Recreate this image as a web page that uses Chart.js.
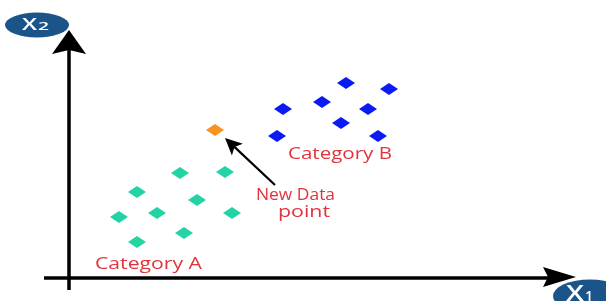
<!DOCTYPE html>
<html>
<head>
<meta charset="utf-8">
<script src="https://cdn.jsdelivr.net/npm/chart.js@4/dist/chart.umd.min.js"></script>
<style>
html,body{margin:0;padding:0;background:#fff;}
canvas{display:block;}
</style>
</head>
<body>
<canvas id="c" width="606" height="301"></canvas>
<script>
// Data (x1, x2) in chart units
const categoryA_x = [22.4, 31.4, 13.8, 25.8, 10.2, 17.8, 32.8, 23.2, 13.8];
const categoryA_y = [21.0, 21.2, 17.2, 15.6, 12.2, 13.0, 13.0, 9.0, 7.2];
const categoryB_x = [55.6, 64.2, 50.8, 43.0, 60.0, 54.6, 41.8, 62.0];
const categoryB_y = [39.0, 37.8, 35.2, 33.8, 33.8, 31.0, 28.4, 28.4];
const newPoint_x = [29.4];
const newPoint_y = [29.6];
const labels = ["Category A", "Category B", "New Data", "point"];
const axisLabels = ["X", "X"];
const axisSubs = ["2", "1"];

function pts(xs, ys){ return xs.map((x,i)=>({x:x, y:ys[i]})); }

function diamond(color){
  const c = document.createElement('canvas');
  c.width = 18; c.height = 12;
  const g = c.getContext('2d');
  g.fillStyle = color;
  g.beginPath();
  g.moveTo(9,0); g.lineTo(18,6); g.lineTo(9,12); g.lineTo(0,6); g.closePath();
  g.fill();
  return c;
}

function stretchText(ctx, text, x, y, font, color, targetW){
  ctx.save();
  ctx.font = font;
  ctx.fillStyle = color;
  ctx.textBaseline = 'alphabetic';
  const w = ctx.measureText(text).width;
  const s = targetW ? targetW / w : 1;
  ctx.translate(x, y);
  ctx.scale(s, 1);
  ctx.fillText(text, 0, 0);
  ctx.restore();
}

function arrowHead(ctx, tx, ty, dx, dy, len, half, notch){
  const px = -dy, py = dx;
  const bx = tx - dx*len, by = ty - dy*len;
  ctx.beginPath();
  ctx.moveTo(tx, ty);
  ctx.lineTo(bx + px*half, by + py*half);
  ctx.lineTo(tx - dx*(len-notch), ty - dy*(len-notch));
  ctx.lineTo(bx - px*half, by - py*half);
  ctx.closePath();
  ctx.fill();
}

const decor = {
  id: 'decor',
  afterDatasetsDraw(chart){
    const ctx = chart.ctx;
    const xs = chart.scales.x, ys = chart.scales.y;
    const X = v => xs.getPixelForValue(v);
    const Y = v => ys.getPixelForValue(v);
    const ox = X(0), oy = Y(0);
    ctx.save();
    ctx.fillStyle = '#000';
    ctx.strokeStyle = '#000';
    ctx.lineWidth = 3.5;
    // y axis
    ctx.beginPath(); ctx.moveTo(ox+1, oy+12); ctx.lineTo(ox+1, 50); ctx.stroke();
    arrowHead(ctx, ox+1, 30, 0, -1, 24, 17, 4);
    // x axis
    ctx.beginPath(); ctx.moveTo(ox-24, oy); ctx.lineTo(548, oy); ctx.stroke();
    arrowHead(ctx, 576, oy-1, 1, 0, 33, 10, 5);
    // pointer arrow to new data point
    const tx = X(31.4), ty = Y(28), sx = X(41.4), sy = Y(18.6);
    let dx = tx - sx, dy = ty - sy; const L = Math.hypot(dx, dy); dx/=L; dy/=L;
    ctx.lineWidth = 2.2;
    ctx.beginPath(); ctx.moveTo(sx, sy); ctx.lineTo(tx - dx*10, ty - dy*10); ctx.stroke();
    arrowHead(ctx, tx, ty, dx, dy, 17, 8, 4);
    // axis label ellipses
    ctx.fillStyle = '#1a5488';
    ctx.beginPath(); ctx.ellipse(37, 25, 32, 12.5, 0, 0, Math.PI*2); ctx.fill();
    ctx.beginPath(); ctx.ellipse(590, 296, 37, 16.5, 0, 0, Math.PI*2); ctx.fill();
    ctx.restore();
    // X2 / X1 text
    const white = '#ffffff';
    stretchText(ctx, axisLabels[0], 22, 30, '600 16px "Open Sans"', white, 15);
    stretchText(ctx, axisSubs[0], 38, 30, '600 11px "Open Sans"', white, 11);
    stretchText(ctx, axisLabels[1], 566, 301, '600 21px "Open Sans"', white, 18);
    stretchText(ctx, axisSubs[1], 585, 301, '600 14px "Open Sans"', white, 8);
    // red labels
    const red = '#e2333d';
    stretchText(ctx, labels[0], X(5.4), Y(1.8), '17px "Open Sans"', red, 107);
    stretchText(ctx, labels[1], X(44), Y(23.8), '16px "Open Sans"', red, 104);
    stretchText(ctx, labels[2], X(37.6), Y(15.6), '16px "Open Sans"', red, 79);
    stretchText(ctx, labels[3], X(42), Y(12.2), '16px "Open Sans"', red, 52);
  }
};

new Chart(document.getElementById('c'), {
  type: 'scatter',
  data: {
    datasets: [
      {label: labels[0], data: pts(categoryA_x, categoryA_y), pointStyle: diamond('#22d3a3'), pointRadius: 9},
      {label: labels[1], data: pts(categoryB_x, categoryB_y), pointStyle: diamond('#0a1af2'), pointRadius: 9},
      {label: 'New', data: pts(newPoint_x, newPoint_y), pointStyle: diamond('#f7931e'), pointRadius: 9}
    ]
  },
  options: {
    responsive: false,
    animation: false,
    layout: {padding: {left: 68, right: 38, top: 28, bottom: 23}},
    plugins: {legend: {display: false}, tooltip: {enabled: false}},
    scales: {
      x: {type: 'linear', min: 0, max: 100, display: false},
      y: {type: 'linear', min: 0, max: 50, display: false}
    }
  },
  plugins: [decor]
});
</script>
</body>
</html>
